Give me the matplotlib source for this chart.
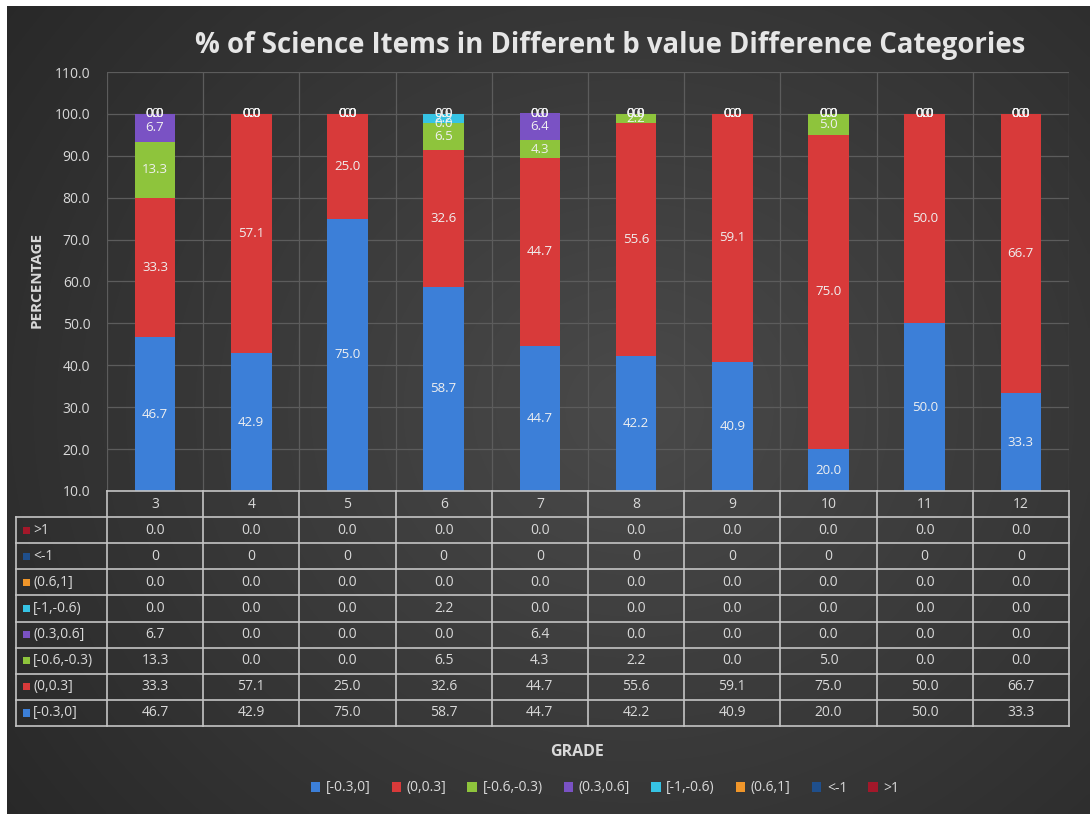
import numpy as np
import matplotlib
matplotlib.use("Agg")
import matplotlib.pyplot as plt
from matplotlib.patches import Patch, Rectangle

# ---------------- data ----------------
grades = ["3", "4", "5", "6", "7", "8", "9", "10", "11", "12"]
series_names = ["[-0.3,0]", "(0,0.3]", "[-0.6,-0.3)", "(0.3,0.6]", "[-1,-0.6)", "(0.6,1]", "<-1", ">1"]
v_m03_0 = [46.7, 42.9, 75.0, 58.7, 44.7, 42.2, 40.9, 20.0, 50.0, 33.3]
v_0_03 = [33.3, 57.1, 25.0, 32.6, 44.7, 55.6, 59.1, 75.0, 50.0, 66.7]
v_m06_m03 = [13.3, 0.0, 0.0, 6.5, 4.3, 2.2, 0.0, 5.0, 0.0, 0.0]
v_03_06 = [6.7, 0.0, 0.0, 0.0, 6.4, 0.0, 0.0, 0.0, 0.0, 0.0]
v_m1_m06 = [0.0, 0.0, 0.0, 2.2, 0.0, 0.0, 0.0, 0.0, 0.0, 0.0]
v_06_1 = [0.0, 0.0, 0.0, 0.0, 0.0, 0.0, 0.0, 0.0, 0.0, 0.0]
v_lt_m1 = [0, 0, 0, 0, 0, 0, 0, 0, 0, 0]
v_gt_1 = [0.0, 0.0, 0.0, 0.0, 0.0, 0.0, 0.0, 0.0, 0.0, 0.0]
series_values = [v_m03_0, v_0_03, v_m06_m03, v_03_06, v_m1_m06, v_06_1, v_lt_m1, v_gt_1]
series_fmt = ["{:.1f}"] * 6 + ["{:.0f}", "{:.1f}"]
y_ticks = [10, 20, 30, 40, 50, 60, 70, 80, 90, 100, 110]

colors = ["#3c7fd8", "#d83a3a", "#8ec43c", "#7a52c4", "#36c3e4", "#f0962a", "#1f4f8c", "#a3182a"]

W, H = 1090, 814
fig = plt.figure(figsize=(W / 100, H / 100), dpi=100)
fig.patch.set_facecolor("white")

def fx(px):
    return px / W

def fy(py):
    return 1 - py / H

FONT = "Open Sans"
TXT = "#d9d9d9"

# ---------------- background gradient ----------------
bg = fig.add_axes([fx(7), 0, 1 - fx(7), fy(6)])
yy, xx = np.mgrid[0:1:200j, 0:1:300j]
d = np.sqrt(((xx - 0.58) / 0.75) ** 2 + ((yy - 0.5) / 0.9) ** 2)
d = np.clip(d, 0, 1)
c0 = np.array([0x4a, 0x4a, 0x4a]) / 255
c1 = np.array([0x27, 0x27, 0x27]) / 255
img = c0[None, None, :] * (1 - d[..., None]) + c1[None, None, :] * d[..., None]
bg.imshow(img, aspect="auto", extent=[0, 1, 0, 1], interpolation="bilinear")
bg.set_axis_off()

# ---------------- main chart ----------------
L, R, T, B = 107, 1069, 72, 491
ax = fig.add_axes([fx(L), fy(B), fx(R) - fx(L), fy(T) - fy(B)])
ax.set_facecolor("none")
x = np.arange(len(grades))
ax.set_xlim(-0.5, len(grades) - 0.5)
ax.set_ylim(y_ticks[0], y_ticks[-1])

for yv in y_ticks:
    ax.axhline(yv, color="#5c5c5c", lw=0.9, zorder=0)
for xv in np.arange(-0.5, len(grades), 1.0):
    ax.axvline(xv, color="#5c5c5c", lw=0.9, zorder=0)

bottom = np.zeros(len(grades))
handles = []
for name, vals, col, fmt in zip(series_names, series_values, colors, series_fmt):
    vals = np.array(vals, dtype=float)
    ax.bar(x, vals, 0.42, bottom=bottom, color=col, edgecolor="none", zorder=2)
    for i in range(len(grades)):
        lo = max(bottom[i], y_ticks[0])
        hi = bottom[i] + vals[i]
        yc = (lo + hi) / 2
        ax.text(x[i], yc, fmt.format(vals[i]), ha="center", va="center",
                color="#f0f0f0", fontsize=9.5, family=FONT, zorder=4)
    bottom = bottom + vals
    handles.append(Patch(facecolor=col, edgecolor="none", label=name))

ax.set_xticks([])
ax.set_yticks(y_ticks)
ax.set_yticklabels([f"{v:.1f}" for v in y_ticks], color=TXT, fontsize=10, family=FONT)
ax.tick_params(axis="y", length=0, pad=12)
for s in ax.spines.values():
    s.set_visible(False)

fig.text(fx(37), fy(280), "PERCENTAGE", rotation=90, ha="center", va="center",
         color=TXT, fontsize=11, fontweight="bold", family=FONT)

fig.text(fx(610), fy(45), "% of Science Items in Different b value Difference Categories",
         ha="center", va="center", color="#e6e6e6", fontsize=19.8, fontweight="bold", family=FONT)

# ---------------- data table ----------------
TB = 726
tab = fig.add_axes([fx(L), fy(TB), fx(R) - fx(L), fy(B) - fy(TB)])
tab.set_facecolor("none")
tab.set_xlim(-0.5, len(grades) - 0.5)
tab.set_ylim(9, 0)
tab.set_axis_off()
line_c = "#c4c4c4"
lw = 1.2
left_x = -0.5 - (L - 16) / ((R - L) / len(grades))

# horizontal lines
tab.plot([-0.5, len(grades) - 0.5], [0, 0], color=line_c, lw=lw, clip_on=False)
for r in range(1, 10):
    tab.plot([left_x, len(grades) - 0.5], [r, r], color=line_c, lw=lw, clip_on=False)
# vertical lines
for c in range(len(grades) + 1):
    tab.plot([c - 0.5, c - 0.5], [0, 9], color=line_c, lw=lw, clip_on=False)
tab.plot([left_x, left_x], [1, 9], color=line_c, lw=lw, clip_on=False)

for i, g in enumerate(grades):
    tab.text(i, 0.5, g, ha="center", va="center", color=TXT, fontsize=10, family=FONT)

row_order = list(range(len(series_names)))[::-1]
for r, si in enumerate(row_order):
    yc = r + 1.5
    tab.add_patch(Rectangle((left_x + 0.07, yc - 0.14), 0.075, 0.28, facecolor=colors[si],
                            edgecolor="none", clip_on=False,
                            transform=tab.transData))
    tab.text(left_x + 0.18, yc, series_names[si], ha="left", va="center", color=TXT,
             fontsize=10, family=FONT, clip_on=False)
    for i in range(len(grades)):
        tab.text(i, yc, series_fmt[si].format(series_values[si][i]), ha="center", va="center",
                 color=TXT, fontsize=10, family=FONT)

fig.text(fx(577), fy(752), "GRADE", ha="center", va="center", color=TXT,
         fontsize=11.5, fontweight="bold", family=FONT)

leg = fig.legend(handles=handles, loc="center", bbox_to_anchor=(fx(605), fy(788)), ncol=8,
                 frameon=False, handlelength=0.7, handleheight=0.7,
                 handletextpad=0.4, columnspacing=1.5, prop={"family": FONT, "size": 10})
for t in leg.get_texts():
    t.set_color(TXT)

fig.savefig("out.png", dpi=100, facecolor=fig.get_facecolor())
